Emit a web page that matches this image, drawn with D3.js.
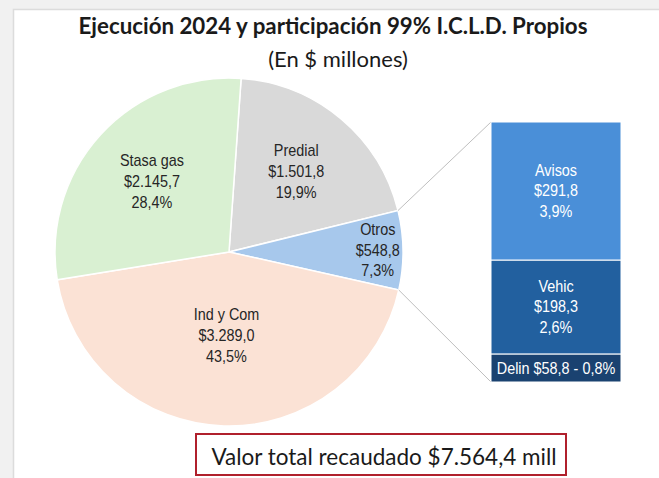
<!DOCTYPE html>
<html>
<head>
<meta charset="utf-8">
<script src="https://cdn.jsdelivr.net/npm/d3@7"></script>
<style>
  body { margin: 0; background: #f1f1f1; }
  svg { display: block; }
</style>
</head>
<body>
<svg id="chart" width="659" height="478"></svg>
<script>
// main pie
var pieNames = ['Predial', 'Otros', 'Ind y Com', 'Stasa gas']
var pieValues = [1501.8, 548.8, 3289.0, 2145.7]
var pieAmounts = ['$1.501,8', '$548,8', '$3.289,0', '$2.145,7']
var piePercents = ['19,9%', '7,3%', '43,5%', '28,4%']

// breakdown of "Otros"
var otrosNames = ['Avisos', 'Vehic', 'Delin']
var otrosValues = [291.8, 198.3, 58.8]
var otrosAmounts = ['$291,8', '$198,3', '$58,8']
var otrosPercents = ['3,9%', '2,6%', '0,8%']

var titleText = 'Ejecución 2024 y participación 99% I.C.L.D. Propios'
var subtitleText = '(En $ millones)'
var totalText = 'Valor total recaudado $7.564,4 mill'

var pieColors = {
  'Predial': '#d9d9d9',
  'Otros': '#a7c8ec',
  'Ind y Com': '#fbe2d5',
  'Stasa gas': '#d9f0d2'
}
var barColors = ['#4a8fd8', '#22609f', '#1a4270']
// label distance from centre, as share of the radius
var labelPos = { 'Predial': 0.6, 'Otros': 0.855, 'Ind y Com': 0.485, 'Stasa gas': 0.6 }

var svg = d3.select('#chart')
var W = 659, H = 478
var labelFont = '"Liberation Sans", Arial, sans-serif'

// white panel
svg.append('rect')
  .attr('x', 13.5).attr('y', 9.5)
  .attr('width', W).attr('height', H)
  .attr('fill', '#fff')
  .attr('stroke', '#dcdcdc')
  .attr('stroke-width', 1.5)

svg.append('text')
  .attr('x', 333).attr('y', 34)
  .attr('text-anchor', 'middle')
  .style('font-family', 'Lato, "Open Sans", sans-serif')
  .style('font-weight', 'bold')
  .style('font-size', '22.3px')
  .attr('fill', '#1a1a1a')
  .text(titleText)

svg.append('text')
  .attr('x', 338).attr('y', 67)
  .attr('text-anchor', 'middle')
  .style('font-family', 'Lato, "Open Sans", sans-serif')
  .style('font-size', '22px')
  .attr('fill', '#1a1a1a')
  .text(subtitleText)

var cx = 229, cy = 252, R = 174
var startAngle = 4 * Math.PI / 180

var pie = d3.pie()
  .sort(null)
  .startAngle(startAngle)
  .endAngle(startAngle + 2 * Math.PI)
  .value(function(d) { return d.value })

var pieData = pie(pieNames.map(function(n, i) {
  return { name: n, value: pieValues[i], amount: pieAmounts[i], pct: piePercents[i] }
}))

var arc = d3.arc().innerRadius(0).outerRadius(R)

var g = svg.append('g').attr('transform', 'translate(' + cx + ',' + cy + ')')

g.selectAll('path.slice')
  .data(pieData)
  .enter()
  .append('path')
  .attr('class', 'slice')
  .attr('d', arc)
  .attr('fill', function(d) { return pieColors[d.data.name] })
  .attr('stroke', '#fff')
  .attr('stroke-width', 1.5)

var pieLabels = g.selectAll('text.lbl')
  .data(pieData)
  .enter()
  .append('text')
  .attr('class', 'lbl')
  .attr('text-anchor', 'middle')
  .style('font-family', labelFont)
  .style('font-size', '16px')
  .attr('fill', '#262626')
  .attr('transform', function(d) {
    var r = R * labelPos[d.data.name]
    var a = (d.startAngle + d.endAngle) / 2
    return 'translate(' + (Math.sin(a) * r) + ',' + (-Math.cos(a) * r) + ') scale(0.9,1)'
  })
pieLabels.each(function(d) {
  var t = d3.select(this)
  var lines = [d.data.name, d.data.amount, d.data.pct]
  lines.forEach(function(l, i) {
    t.append('tspan')
      .attr('x', 0)
      .attr('y', (i - 1) * 21 + 5)
      .text(l)
  })
})

// stacked bar for Otros
var barX0 = 491, barX1 = 621, barTop = 122, barBottom = 382
var otrosTotal = d3.sum(otrosValues)
var y = d3.scaleLinear().domain([0, otrosTotal]).range([barTop, barBottom])

var stack = []
var acc = 0
otrosNames.forEach(function(n, i) {
  stack.push({ name: n, value: otrosValues[i], amount: otrosAmounts[i], pct: otrosPercents[i], y0: acc, y1: acc + otrosValues[i], color: barColors[i] })
  acc += otrosValues[i]
})

// connector lines from the Otros slice edge to the bar
var otros = pieData[1]
var connectors = [
  [otros.startAngle, barTop],
  [otros.endAngle, barBottom]
]
svg.selectAll('line.conn')
  .data(connectors)
  .enter()
  .append('line')
  .attr('class', 'conn')
  .attr('x1', function(d) { return cx + Math.sin(d[0]) * R })
  .attr('y1', function(d) { return cy - Math.cos(d[0]) * R })
  .attr('x2', barX0)
  .attr('y2', function(d) { return d[1] })
  .attr('stroke', '#bfbfbf')
  .attr('stroke-width', 1)

var bars = svg.append('g')
bars.selectAll('rect')
  .data(stack)
  .enter()
  .append('rect')
  .attr('x', barX0)
  .attr('width', barX1 - barX0)
  .attr('y', function(d) { return y(d.y0) })
  .attr('height', function(d) { return y(d.y1) - y(d.y0) })
  .attr('fill', function(d) { return d.color })
  .attr('stroke', '#fff')
  .attr('stroke-width', 1)

var barMid = (barX0 + barX1) / 2
stack.forEach(function(d) {
  var ym = (y(d.y0) + y(d.y1)) / 2
  var t = bars.append('text')
    .attr('text-anchor', 'middle')
    .style('font-family', labelFont)
    .style('font-size', '16px')
    .attr('fill', '#fff')
    .attr('transform', 'translate(' + barMid + ',' + ym + ') scale(0.9,1)')
  if (y(d.y1) - y(d.y0) < 40) {
    t.attr('x', 0).attr('y', 5.5)
      .text(d.name + ' ' + d.amount + ' - ' + d.pct)
  } else {
    ;[d.name, d.amount, d.pct].forEach(function(l, i) {
      t.append('tspan')
        .attr('x', 0)
        .attr('y', (i - 1) * 20.5 + 5)
        .text(l)
    })
  }
})

// total box
svg.append('rect')
  .attr('x', 196).attr('y', 434)
  .attr('width', 370).attr('height', 41)
  .attr('fill', '#fff')
  .attr('stroke', '#b0202c')
  .attr('stroke-width', 2)

svg.append('text')
  .attr('x', 384).attr('y', 465)
  .attr('text-anchor', 'middle')
  .style('font-family', 'Lato, "Open Sans", sans-serif')
  .style('font-size', '22.5px')
  .attr('fill', '#1a1a1a')
  .text(totalText)
</script>
</body>
</html>
